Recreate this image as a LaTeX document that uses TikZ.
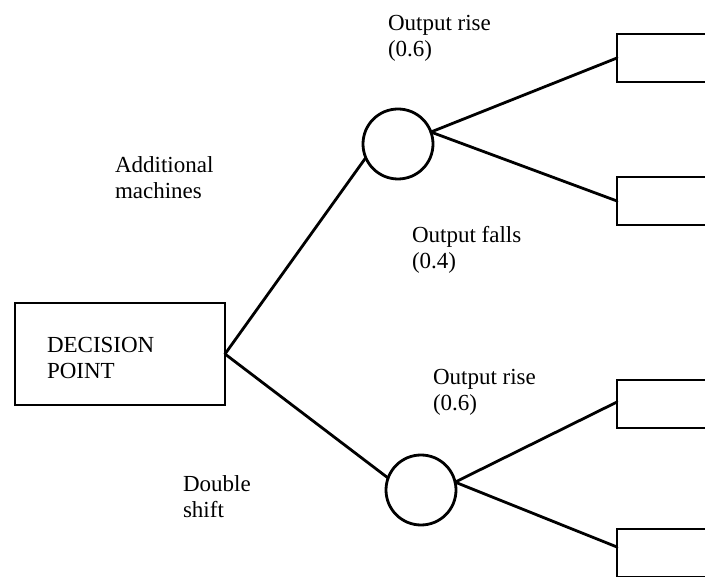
\documentclass[tikz,border=0pt]{standalone}
\usepackage{fontspec}
\setmainfont{Liberation Serif}
\begin{document}
\begin{tikzpicture}[x=1pt,y=-1pt,
  every node/.style={inner sep=0pt, outer sep=0pt},
  link/.style={line width=2.8pt, line cap=round},
  outline/.style={draw, line width=2.8pt},
  choicebox/.style={outline, rectangle, minimum width=210pt, minimum height=102pt},
  chance/.style={outline, circle, minimum size=70pt},
  outcome/.style={outline, rectangle, minimum width=110pt, minimum height=48pt},
  label/.style={anchor=base west, align=left, font=\fontsize{23}{26}\selectfont}]
\useasboundingbox (0,0) rectangle (705,577);
\clip (0,0) rectangle (705,577);

% decision and chance nodes
\node[choicebox] (dp) at (120,354) {};
\node[label] (dptext) at (47,379) {DECISION\\POINT};
\node[chance] (c1) at (398,144) {};
\node[chance] (c2) at (421,490) {};

% end boxes, running off the right edge
\node[outcome] (b1) at (672,58) {};
\node[outcome] (b2) at (672,201) {};
\node[outcome] (b3) at (672,404) {};
\node[outcome] (b4) at (672,553) {};

% branches
\draw[link] (dp.east) -- (c1.203);
\draw[link] (dp.east) -- (c2.160);
\coordinate (s1) at (c1.20);
\coordinate (s2) at (c2.13);
\draw[link] (s1) -- (b1.west);
\draw[link] (s1) -- (b2.west);
\draw[link] (s2) -- ([yshift=2pt]b3.west);
\draw[link] (s2) -- ([yshift=6pt]b4.west);

% branch labels (anchored on the baseline of the second line)
\node[label] (l1) at (388,57) {Output rise\\(0.6)};
\node[label] (l2) at (115,199) {Additional\\machines};
\node[label] (l3) at (412,269) {Output falls\\(0.4)};
\node[label] (l4) at (433,411) {Output rise\\(0.6)};
\node[label] (l5) at (183,518) {Double\\shift};
\end{tikzpicture}
\end{document}
